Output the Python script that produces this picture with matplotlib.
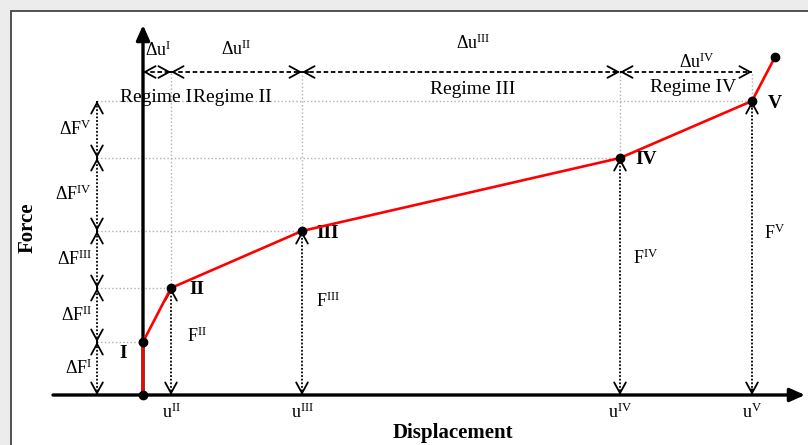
import matplotlib
matplotlib.use("Agg")
import matplotlib.pyplot as plt
from matplotlib.patches import Rectangle

plt.rcParams['font.family'] = ['Liberation Serif', 'DejaVu Serif']
plt.rcParams['mathtext.fontset'] = 'custom'
plt.rcParams['mathtext.rm'] = 'Liberation Serif'
plt.rcParams['mathtext.it'] = 'Liberation Serif:italic'
plt.rcParams['mathtext.bf'] = 'Liberation Serif:bold'

# key points of the force-displacement curve (origin, I..V, end of curve)
disp = [0, 0, 28, 159, 477, 609, 632]
force = [0, 53, 107, 164, 237, 294, 338]
roman = ['I', 'II', 'III', 'IV', 'V']

X_MIN, X_MAX = -143, 665
Y_MIN, Y_MAX = -50, 395
Y_TOP = 323      # level of the delta-u arrows
X_LEFT = -46     # column of the delta-F arrows

HEAD = 'head_length=0.55,head_width=0.3'


def head(ax, x, y, dx, dy):
    # open arrowhead at (x, y) pointing along (dx, dy)
    ax.annotate('', xy=(x, y), xytext=(x - dx, y - dy),
                arrowprops=dict(arrowstyle='->,' + HEAD, lw=1.3, color='k',
                                shrinkA=0, shrinkB=0, mutation_scale=14))


def dbl_arrow(ax, p0, p1, ls):
    ax.plot([p0[0], p1[0]], [p0[1], p1[1]], color='k', lw=1.3, ls=ls)
    dx = (p1[0] - p0[0]) * 0.02
    dy = (p1[1] - p0[1]) * 0.02
    head(ax, p1[0], p1[1], dx, dy)
    head(ax, p0[0], p0[1], -dx, -dy)


def main():
    fig = plt.figure(figsize=(8.08, 4.45), dpi=100, facecolor='#ececec')
    ax = fig.add_axes([0, 0, 1, 1])
    ax.set_xlim(X_MIN, X_MAX)
    ax.set_ylim(Y_MIN, Y_MAX)
    ax.axis('off')

    ax.add_patch(Rectangle((-132, -80), 900, 464, facecolor='white',
                           edgecolor='#444444', lw=1.3, zorder=0))

    u = disp[1:6]
    F = force[1:6]

    # light guide lines
    for ui, fi in zip(u, F):
        ax.plot([X_LEFT, ui], [fi, fi], color='#b0b0b0', lw=1, ls=':', zorder=1)
    for ui, fi in zip(u[1:], F[1:]):
        ax.plot([ui, ui], [fi, Y_TOP], color='#b0b0b0', lw=1, ls=':', zorder=1)

    # axes with filled arrows
    ax.annotate('', xy=(X_MAX - 3, 0), xytext=(-90, 0),
                arrowprops=dict(arrowstyle='-|>,head_length=0.9,head_width=0.4',
                                lw=2.4, color='k', shrinkA=0, shrinkB=0,
                                mutation_scale=10), zorder=5)
    ax.annotate('', xy=(0, 370), xytext=(0, 0),
                arrowprops=dict(arrowstyle='-|>,head_length=0.9,head_width=0.4',
                                lw=2.4, color='k', shrinkA=0, shrinkB=0,
                                mutation_scale=10), zorder=5)

    # F arrows from the axis to each point
    for ui, fi in zip(u[1:], F[1:]):
        dbl_arrow(ax, (ui, 0), (ui, fi), (0, (1, 1)))

    # delta-F arrows on the left
    levels = [0] + F
    for a, b in zip(levels[:-1], levels[1:]):
        dbl_arrow(ax, (X_LEFT, a), (X_LEFT, b), (0, (1, 1)))

    # delta-u arrows on top
    stops = [0] + u[1:]
    for a, b in zip(stops[:-1], stops[1:]):
        dbl_arrow(ax, (a, Y_TOP), (b, Y_TOP), (0, (2.5, 1.5)))

    # curve
    ax.plot(disp, force, color='red', lw=1.9, zorder=6)
    ax.plot(disp, force, 'o', color='k', ms=6, zorder=7)

    fs = 13
    # delta-F labels
    for r, a, b in zip(roman, levels[:-1], levels[1:]):
        ax.text(-51, (a + b) / 2, r'$\mathrm{\Delta F}^{\mathrm{%s}}$' % r,
                fontsize=fs, ha='right', va='center')

    # delta-u labels
    du_pos = [(2, 345, 'left'), (93, 346, 'center'), (330, 352, 'center'),
              (554, 333, 'center')]
    for r, (x, y, ha) in zip(roman, du_pos):
        ax.text(x, y, r'$\mathrm{\Delta u}^{\mathrm{%s}}$' % r,
                fontsize=fs, ha=ha, va='center')

    # regime labels
    ax.text(-23, 298, 'Regime I', fontsize=14, ha='left', va='center')
    ax.text(50, 298, 'Regime II', fontsize=14, ha='left', va='center')
    ax.text(330, 305, 'Regime III', fontsize=14, ha='center', va='center')
    ax.text(550, 307, 'Regime IV', fontsize=14, ha='center', va='center')

    # point labels
    ax.text(-20, 42, 'I', fontsize=14, fontweight='bold', ha='center', va='center')
    for r, ui, fi in zip(roman[1:], u[1:], F[1:]):
        off = 23 if r == 'V' else 26
        ax.text(ui + off, fi - 2, r, fontsize=14, fontweight='bold',
                ha='center', va='center')
        ax.text(ui + off, fi * 0.6 - (5 if r != 'V' else 15),
                r'$\mathrm{F}^{\mathrm{%s}}$' % r,
                fontsize=fs, ha='center', va='center')
        ax.text(ui, -17, r'$\mathrm{u}^{\mathrm{%s}}$' % r,
                fontsize=fs, ha='center', va='center')

    ax.text(310, -38, 'Displacement', fontsize=15, fontweight='bold',
            ha='center', va='center')
    ax.text(-115, 167, 'Force', fontsize=15, fontweight='bold', rotation=90,
            ha='center', va='center')

    fig.savefig('out.png', dpi=100, facecolor=fig.get_facecolor())


if __name__ == "__main__":
    main()
